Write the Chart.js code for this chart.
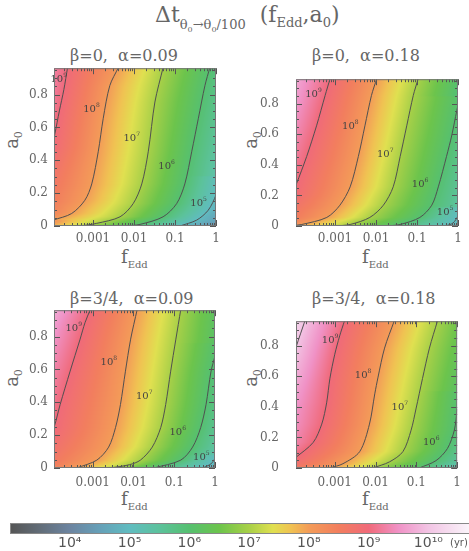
<!DOCTYPE html>
<html>
<head>
<meta charset="utf-8">
<script src="https://cdn.jsdelivr.net/npm/chart.js@4.4.0/dist/chart.umd.min.js"></script>
<style>
  body { margin: 0; background: #fff; width: 469px; height: 551px; position: relative; overflow: hidden; font-family: "DejaVu Serif"; color: #666; }
  canvas { position: absolute; }
  .t { position: absolute; white-space: nowrap; line-height: 1; }
  .sub { position: relative; }
  .ytitle { position: absolute; font-size: 18px; line-height: 1; transform: translate(-50%, -50%) rotate(-90deg); }
</style>
</head>
<body>
<div class="t" style="left:155px; top:4px; font-size:22px">Δt<span class="sub" style="font-size:13px; top:7px">θ<span class="sub" style="font-size:8px; top:3px">0</span>→θ<span class="sub" style="font-size:8px; top:3px">0</span>/100</span>&nbsp; (f<span class="sub" style="font-size:13px; top:5px">Edd</span>,a<span class="sub" style="font-size:13px; top:5px">0</span>)</div>

<div class="t" style="left:70px; top:48px; font-size:16px">β=0, &nbsp;α=0.09</div>
<div class="t" style="left:312px; top:48px; font-size:16px">β=0, &nbsp;α=0.18</div>
<div class="t" style="left:70px; top:291px; font-size:16px">β=3/4, &nbsp;α=0.09</div>
<div class="t" style="left:312px; top:291px; font-size:16px">β=3/4, &nbsp;α=0.18</div>

<div class="ytitle" style="left:12px; top:140px">a<span class="sub" style="font-size:11px; top:4px">0</span></div>
<div class="ytitle" style="left:251px; top:140px">a<span class="sub" style="font-size:11px; top:4px">0</span></div>
<div class="ytitle" style="left:12px; top:378px">a<span class="sub" style="font-size:11px; top:4px">0</span></div>
<div class="ytitle" style="left:251px; top:378px">a<span class="sub" style="font-size:11px; top:4px">0</span></div>

<div class="t" style="left:121px; top:248px; font-size:18px">f<span class="sub" style="font-size:10px; top:5px">Edd</span></div>
<div class="t" style="left:362px; top:248px; font-size:18px">f<span class="sub" style="font-size:10px; top:5px">Edd</span></div>
<div class="t" style="left:121px; top:490px; font-size:18px">f<span class="sub" style="font-size:10px; top:5px">Edd</span></div>
<div class="t" style="left:362px; top:490px; font-size:18px">f<span class="sub" style="font-size:10px; top:5px">Edd</span></div>

<canvas id="p1" width="230" height="200" style="left:0; top:55px"></canvas>
<canvas id="p2" width="227" height="200" style="left:242px; top:55px"></canvas>
<canvas id="p3" width="230" height="200" style="left:0; top:297px"></canvas>
<canvas id="p4" width="227" height="200" style="left:242px; top:297px"></canvas>
<canvas id="cbar" width="469" height="36" style="left:0; top:515px"></canvas>

<script>
// axes
const fMin = 1.12e-4, fMax = 1;
const aMin = 0, aMax = 0.96;
const fTicks = [0.001, 0.01, 0.1, 1];
const fTickLabels = ['0.001', '0.01', '0.1', '1'];
const aTicks = [0, 0.2, 0.4, 0.6, 0.8];
const aTickLabels = ['0', '0.2', '0.4', '0.6', '0.8'];

// contour lines, points are [log10 fEdd, a0]
// (first points of the upper contours sit just left of the frame)
// beta=0, alpha=0.09
const p1_9 = [[-5.0, 0.0], [-4.6, 0.2], [-4.25, 0.36], [-4.0, 0.48], [-3.93, 0.56], [-3.82, 0.70], [-3.71, 0.83], [-3.62, 0.964]];
const p1_8 = [[-3.97, 0.036], [-3.52, 0.076], [-3.20, 0.156], [-3.03, 0.256], [-2.87, 0.455], [-2.75, 0.655], [-2.59, 0.854], [-2.38, 0.964]];
const p1_7 = [[-3.3, 0.0], [-2.91, 0.016], [-2.34, 0.056], [-2.02, 0.136], [-1.81, 0.256], [-1.65, 0.455], [-1.49, 0.754], [-1.29, 0.964]];
const p1_6 = [[-2.2, 0.0], [-1.85, 0.01], [-1.29, 0.056], [-0.96, 0.136], [-0.76, 0.256], [-0.59, 0.455], [-0.43, 0.655], [-0.27, 0.854], [-0.15, 0.964]];
const p1_5 = [[-0.88, 0.0], [-0.47, 0.036], [-0.19, 0.096], [0.0, 0.19], [0.1, 0.3]];
// beta=0, alpha=0.18
const p2_9 = [[-4.9, 0.0], [-4.5, 0.1], [-4.05, 0.2], [-3.94, 0.275], [-3.69, 0.455], [-3.45, 0.655], [-3.24, 0.854], [-3.12, 0.964]];
const p2_8 = [[-4.1, 0.0], [-3.81, 0.01], [-3.2, 0.056], [-2.88, 0.136], [-2.63, 0.256], [-2.43, 0.455], [-2.27, 0.655], [-2.11, 0.854], [-1.98, 0.964]];
const p2_7 = [[-3.0, 0.0], [-2.63, 0.01], [-2.15, 0.056], [-1.82, 0.136], [-1.58, 0.256], [-1.41, 0.455], [-1.25, 0.655], [-1.09, 0.854], [-0.97, 0.964]];
const p2_6 = [[-1.75, 0.0], [-1.41, 0.01], [-0.93, 0.056], [-0.64, 0.136], [-0.48, 0.256], [-0.28, 0.455], [-0.15, 0.595], [-0.03, 0.754], [0.05, 0.85]];
const p2_5 = [[-0.3, 0.0], [-0.12, 0.02], [0.0, 0.066], [0.08, 0.12]];
// beta=3/4, alpha=0.09
const p3_9 = [[-4.8, 0.0], [-4.4, 0.1], [-4.05, 0.2], [-3.95, 0.247], [-3.80, 0.386], [-3.56, 0.585], [-3.31, 0.784], [-3.19, 0.884], [-3.06, 0.964]];
const p3_8 = [[-3.39, 0.0], [-2.90, 0.048], [-2.61, 0.127], [-2.44, 0.247], [-2.32, 0.386], [-2.20, 0.585], [-2.07, 0.784], [-1.91, 0.964]];
const p3_7 = [[-2.57, 0.0], [-2.1, 0.02], [-1.83, 0.048], [-1.54, 0.127], [-1.33, 0.247], [-1.21, 0.386], [-1.09, 0.585], [-0.96, 0.784], [-0.84, 0.964]];
const p3_6 = [[-1.5, 0.0], [-0.84, 0.048], [-0.55, 0.127], [-0.35, 0.247], [-0.22, 0.386], [-0.10, 0.585], [0.0, 0.684], [0.05, 0.76]];
const p3_5 = [[-0.30, 0.0], [-0.1, 0.025], [0.0, 0.058], [0.05, 0.08]];
// beta=3/4, alpha=0.18
const p4_10 = [[-5.0, 0.0], [-4.6, 0.4], [-4.2, 0.6], [-4.0, 0.74], [-3.95, 0.79], [-3.73, 0.964]];
const p4_9 = [[-4.5, 0.0], [-4.0, 0.06], [-3.96, 0.068], [-3.53, 0.167], [-3.32, 0.287], [-3.20, 0.426], [-3.12, 0.585], [-3.0, 0.744], [-2.88, 0.864], [-2.76, 0.964]];
const p4_8 = [[-3.12, 0.0], [-2.8, 0.028], [-2.39, 0.107], [-2.15, 0.287], [-2.02, 0.485], [-1.94, 0.594], [-1.78, 0.784], [-1.54, 0.964]];
const p4_7 = [[-2.07, 0.0], [-1.66, 0.04], [-1.33, 0.107], [-1.13, 0.247], [-1.01, 0.386], [-0.85, 0.585], [-0.68, 0.784], [-0.48, 0.964]];
const p4_6 = [[-0.93, 0.0], [-0.52, 0.048], [-0.24, 0.127], [-0.07, 0.247], [0.0, 0.386], [0.05, 0.5]];

// contour labels: [exponent, log10 fEdd, a0]
const p1Labels = [[9, -3.80, 0.89], [8, -3.0, 0.71], [7, -2.02, 0.53], [6, -1.17, 0.36], [5, -0.39, 0.14]];
const p2Labels = [[9, -3.49, 0.86], [8, -2.59, 0.65], [7, -1.74, 0.465], [6, -0.89, 0.275], [5, -0.28, 0.086]];
const p3Labels = [[9, -3.43, 0.85], [8, -2.57, 0.645], [7, -1.70, 0.436], [6, -0.88, 0.217], [5, -0.30, 0.067]];
const p4Labels = [[9, -3.08, 0.834], [8, -2.27, 0.605], [7, -1.37, 0.396], [6, -0.60, 0.167]];

// colour bar (log10 of time in yr)
const cbLevels = [3, 3.5, 4, 4.5, 5, 5.5, 6, 6.5, 7, 7.4, 7.7, 8, 8.5, 9, 9.5, 10, 10.7];
const cbColors = ['#555555', '#626d78', '#6c84a0', '#66a0b8', '#60bcc0', '#5cc29c', '#56c070', '#6cc44c',
                  '#a8d048', '#e0e050', '#f0c252', '#f39c58', '#f27e5e', '#f06a7a', '#f092c6', '#f2c4e4', '#faf4fa'];
const cbTicks = [4, 5, 6, 7, 8, 9, 10];
const cbTickLabels = ['10⁴', '10⁵', '10⁶', '10⁷', '10⁸', '10⁹', '10¹⁰'];
const cbMin = 3, cbMax = 10.68;

const rgb = cbColors.map(h => [1, 3, 5].map(i => parseInt(h.substr(i, 2), 16)));
function colorAt(t) {
  if (t <= cbLevels[0]) return rgb[0];
  for (let i = 0; i < cbLevels.length - 1; i++) {
    if (t <= cbLevels[i + 1]) {
      const u = (t - cbLevels[i]) / (cbLevels[i + 1] - cbLevels[i]);
      return rgb[i].map((c, k) => Math.round(c + (rgb[i + 1][k] - c) * u));
    }
  }
  return rgb[rgb.length - 1];
}

function crossing(line, a) {
  for (let i = 0; i < line.length - 1; i++) {
    const [x0, y0] = line[i], [x1, y1] = line[i + 1];
    if ((a - y0) * (a - y1) <= 0 && y0 !== y1) return x0 + (x1 - x0) * (a - y0) / (y1 - y0);
  }
  return null;
}

// log t along one row, between the contour crossings of that row
function logT(rows, lf) {
  if (rows.length === 0) return 7;
  if (rows.length === 1) return rows[0][1] - (lf - rows[0][0]) * 0.85;
  let i = 0;
  if (lf >= rows[rows.length - 1][0]) i = rows.length - 2;
  else if (lf > rows[0][0]) while (lf > rows[i + 1][0]) i++;
  const [x0, l0] = rows[i], [x1, l1] = rows[i + 1];
  let s = (l1 - l0) / (x1 - x0);
  if (lf < x0 || lf > x1) s = Math.max(s, -1.5);
  const t = l0 + s * (lf - x0);
  return Math.min(Math.max(t, cbMin), cbMax);
}

function makePanel(id, contours, labels, rightPad, yPad, xPad) {
  const heatmap = {
    id: 'heatmap',
    beforeDatasetsDraw(chart) {
      const { ctx, chartArea: ca, scales: { x, y } } = chart;
      const w = Math.round(ca.right - ca.left), h = Math.round(ca.bottom - ca.top);
      const off = document.createElement('canvas');
      off.width = w; off.height = h;
      const octx = off.getContext('2d');
      const img = octx.createImageData(w, h);
      const lfs = [];
      for (let i = 0; i < w; i++) lfs.push(Math.log10(x.getValueForPixel(ca.left + i + 0.5)));
      for (let j = 0; j < h; j++) {
        const a = y.getValueForPixel(ca.top + j + 0.5);
        const rows = [];
        contours.forEach(([lev, line]) => {
          const c = crossing(line, a);
          if (c !== null) rows.push([c, lev]);
        });
        rows.sort((p, q) => p[0] - q[0]);
        for (let i = 0; i < w; i++) {
          const c = colorAt(logT(rows, lfs[i]));
          const k = (j * w + i) * 4;
          img.data[k] = c[0]; img.data[k + 1] = c[1]; img.data[k + 2] = c[2]; img.data[k + 3] = 255;
        }
      }
      octx.putImageData(img, 0, 0);
      ctx.drawImage(off, ca.left, ca.top);
    }
  };

  const frame = {
    id: 'frame',
    afterDatasetsDraw(chart) {
      const { ctx, chartArea: ca, scales: { x, y } } = chart;
      ctx.save();
      // contour labels
      ctx.fillStyle = '#444';
      ctx.textBaseline = 'middle';
      labels.forEach(([e, lf, a]) => {
        const px = x.getPixelForValue(Math.pow(10, lf)), py = y.getPixelForValue(a);
        ctx.font = '10px "DejaVu Serif"';
        ctx.textAlign = 'right';
        ctx.fillText('10', px + 3, py);
        ctx.font = '6px "DejaVu Serif"';
        ctx.textAlign = 'left';
        ctx.fillText(String(e), px + 3, py - 4);
      });
      // inward ticks
      ctx.strokeStyle = '#555';
      ctx.lineWidth = 1;
      ctx.beginPath();
      for (let n = -4; n <= 0; n++) {
        for (let k = 1; k <= 9; k++) {
          const v = k * Math.pow(10, n);
          if (v < fMin || v > fMax) continue;
          const px = Math.round(x.getPixelForValue(v)) + 0.5;
          const len = k === 1 ? 6 : 3;
          ctx.moveTo(px, ca.bottom); ctx.lineTo(px, ca.bottom - len);
          ctx.moveTo(px, ca.top); ctx.lineTo(px, ca.top + len);
        }
      }
      for (let m = 0; m <= 19; m++) {
        const v = m * 0.05;
        if (v > aMax) continue;
        const py = Math.round(y.getPixelForValue(v)) + 0.5;
        const len = m % 4 === 0 ? 6 : 3;
        ctx.moveTo(ca.left, py); ctx.lineTo(ca.left + len, py);
        ctx.moveTo(ca.right, py); ctx.lineTo(ca.right - len, py);
      }
      ctx.stroke();
      ctx.strokeStyle = '#777';
      ctx.strokeRect(ca.left + 0.5, ca.top + 0.5, ca.right - ca.left - 1, ca.bottom - ca.top - 1);
      ctx.restore();
    }
  };

  new Chart(document.getElementById(id), {
    type: 'scatter',
    data: {
      datasets: contours.map(([lev, line]) => ({
        label: '10^' + lev,
        data: line.map(([lf, a]) => ({ x: Math.pow(10, lf), y: a })),
        showLine: true,
        borderColor: '#505050',
        borderWidth: 1,
        pointRadius: 0,
        tension: 0.3,
        clip: 0
      }))
    },
    options: {
      responsive: false,
      animation: false,
      events: [],
      layout: { padding: { left: 0, top: 10, right: rightPad, bottom: 0 } },
      plugins: { legend: { display: false }, tooltip: { enabled: false } },
      scales: {
        x: {
          type: 'logarithmic', min: fMin, max: fMax,
          afterBuildTicks: s => { s.ticks = fTicks.map(v => ({ value: v })); },
          afterFit: s => { s.height = 29; },
          grid: { display: false, drawTicks: false },
          border: { display: false },
          ticks: {
            callback: (v, i) => fTickLabels[i],
            autoSkip: false, maxRotation: 0, padding: xPad,
            color: '#666', font: { family: 'DejaVu Serif', size: 12 }
          }
        },
        y: {
          type: 'linear', min: aMin, max: aMax,
          afterBuildTicks: s => { s.ticks = aTicks.map(v => ({ value: v })); },
          afterFit: s => { s.width = 54; },
          grid: { display: false, drawTicks: false },
          border: { display: false },
          ticks: {
            callback: (v, i) => aTickLabels[i],
            autoSkip: false, padding: yPad,
            color: '#666', font: { family: 'DejaVu Serif', size: 12 }
          }
        }
      }
    },
    plugins: [heatmap, frame]
  });
}

makePanel('p1', [[9, p1_9], [8, p1_8], [7, p1_7], [6, p1_6], [5, p1_5]], p1Labels, 14, 6, 6);
makePanel('p2', [[9, p2_9], [8, p2_8], [7, p2_7], [6, p2_6], [5, p2_5]], p2Labels, 11, 17, 6);
makePanel('p3', [[9, p3_9], [8, p3_8], [7, p3_7], [6, p3_6], [5, p3_5]], p3Labels, 15, 6, 8);
makePanel('p4', [[10, p4_10], [9, p4_9], [8, p4_8], [7, p4_7], [6, p4_6]], p4Labels, 11, 17, 8);

// colour bar
const cbarPlugin = {
  id: 'cbarFill',
  beforeDatasetsDraw(chart) {
    const { ctx, chartArea: ca, scales: { x } } = chart;
    const g = ctx.createLinearGradient(ca.left, 0, ca.right, 0);
    cbLevels.forEach((lv, i) => {
      const off = (x.getPixelForValue(Math.min(lv, cbMax)) - ca.left) / (ca.right - ca.left);
      g.addColorStop(Math.min(Math.max(off, 0), 1), cbColors[i]);
    });
    ctx.save();
    ctx.fillStyle = g;
    ctx.fillRect(ca.left, ca.top, ca.right - ca.left, ca.bottom - ca.top);
    ctx.strokeStyle = '#888';
    ctx.lineWidth = 1;
    ctx.strokeRect(ca.left + 0.5, ca.top + 0.5, ca.right - ca.left + 2, ca.bottom - ca.top - 1);
    ctx.fillStyle = '#555';
    ctx.font = '10px "DejaVu Sans"';
    ctx.textBaseline = 'middle';
    ctx.fillText('(yr)', 450, 28);
    ctx.restore();
  }
};

new Chart(document.getElementById('cbar'), {
  type: 'scatter',
  data: { datasets: [{ data: [] }] },
  options: {
    responsive: false,
    animation: false,
    events: [],
    layout: { padding: { left: 10, top: 8, right: 0, bottom: 0 } },
    plugins: { legend: { display: false }, tooltip: { enabled: false } },
    scales: {
      x: {
        type: 'linear', min: cbMin, max: cbMax,
        afterBuildTicks: s => { s.ticks = cbTicks.map(v => ({ value: v })); },
        afterFit: s => { s.height = 17; },
        grid: { display: false, drawTicks: false },
        border: { display: false },
        ticks: {
          callback: (v, i) => cbTickLabels[i],
          autoSkip: false, maxRotation: 0, padding: 1,
          color: '#555', font: { family: 'DejaVu Sans', size: 14 }
        }
      },
      y: { display: false, min: 0, max: 1 }
    }
  },
  plugins: [cbarPlugin]
});
</script>
</body>
</html>
